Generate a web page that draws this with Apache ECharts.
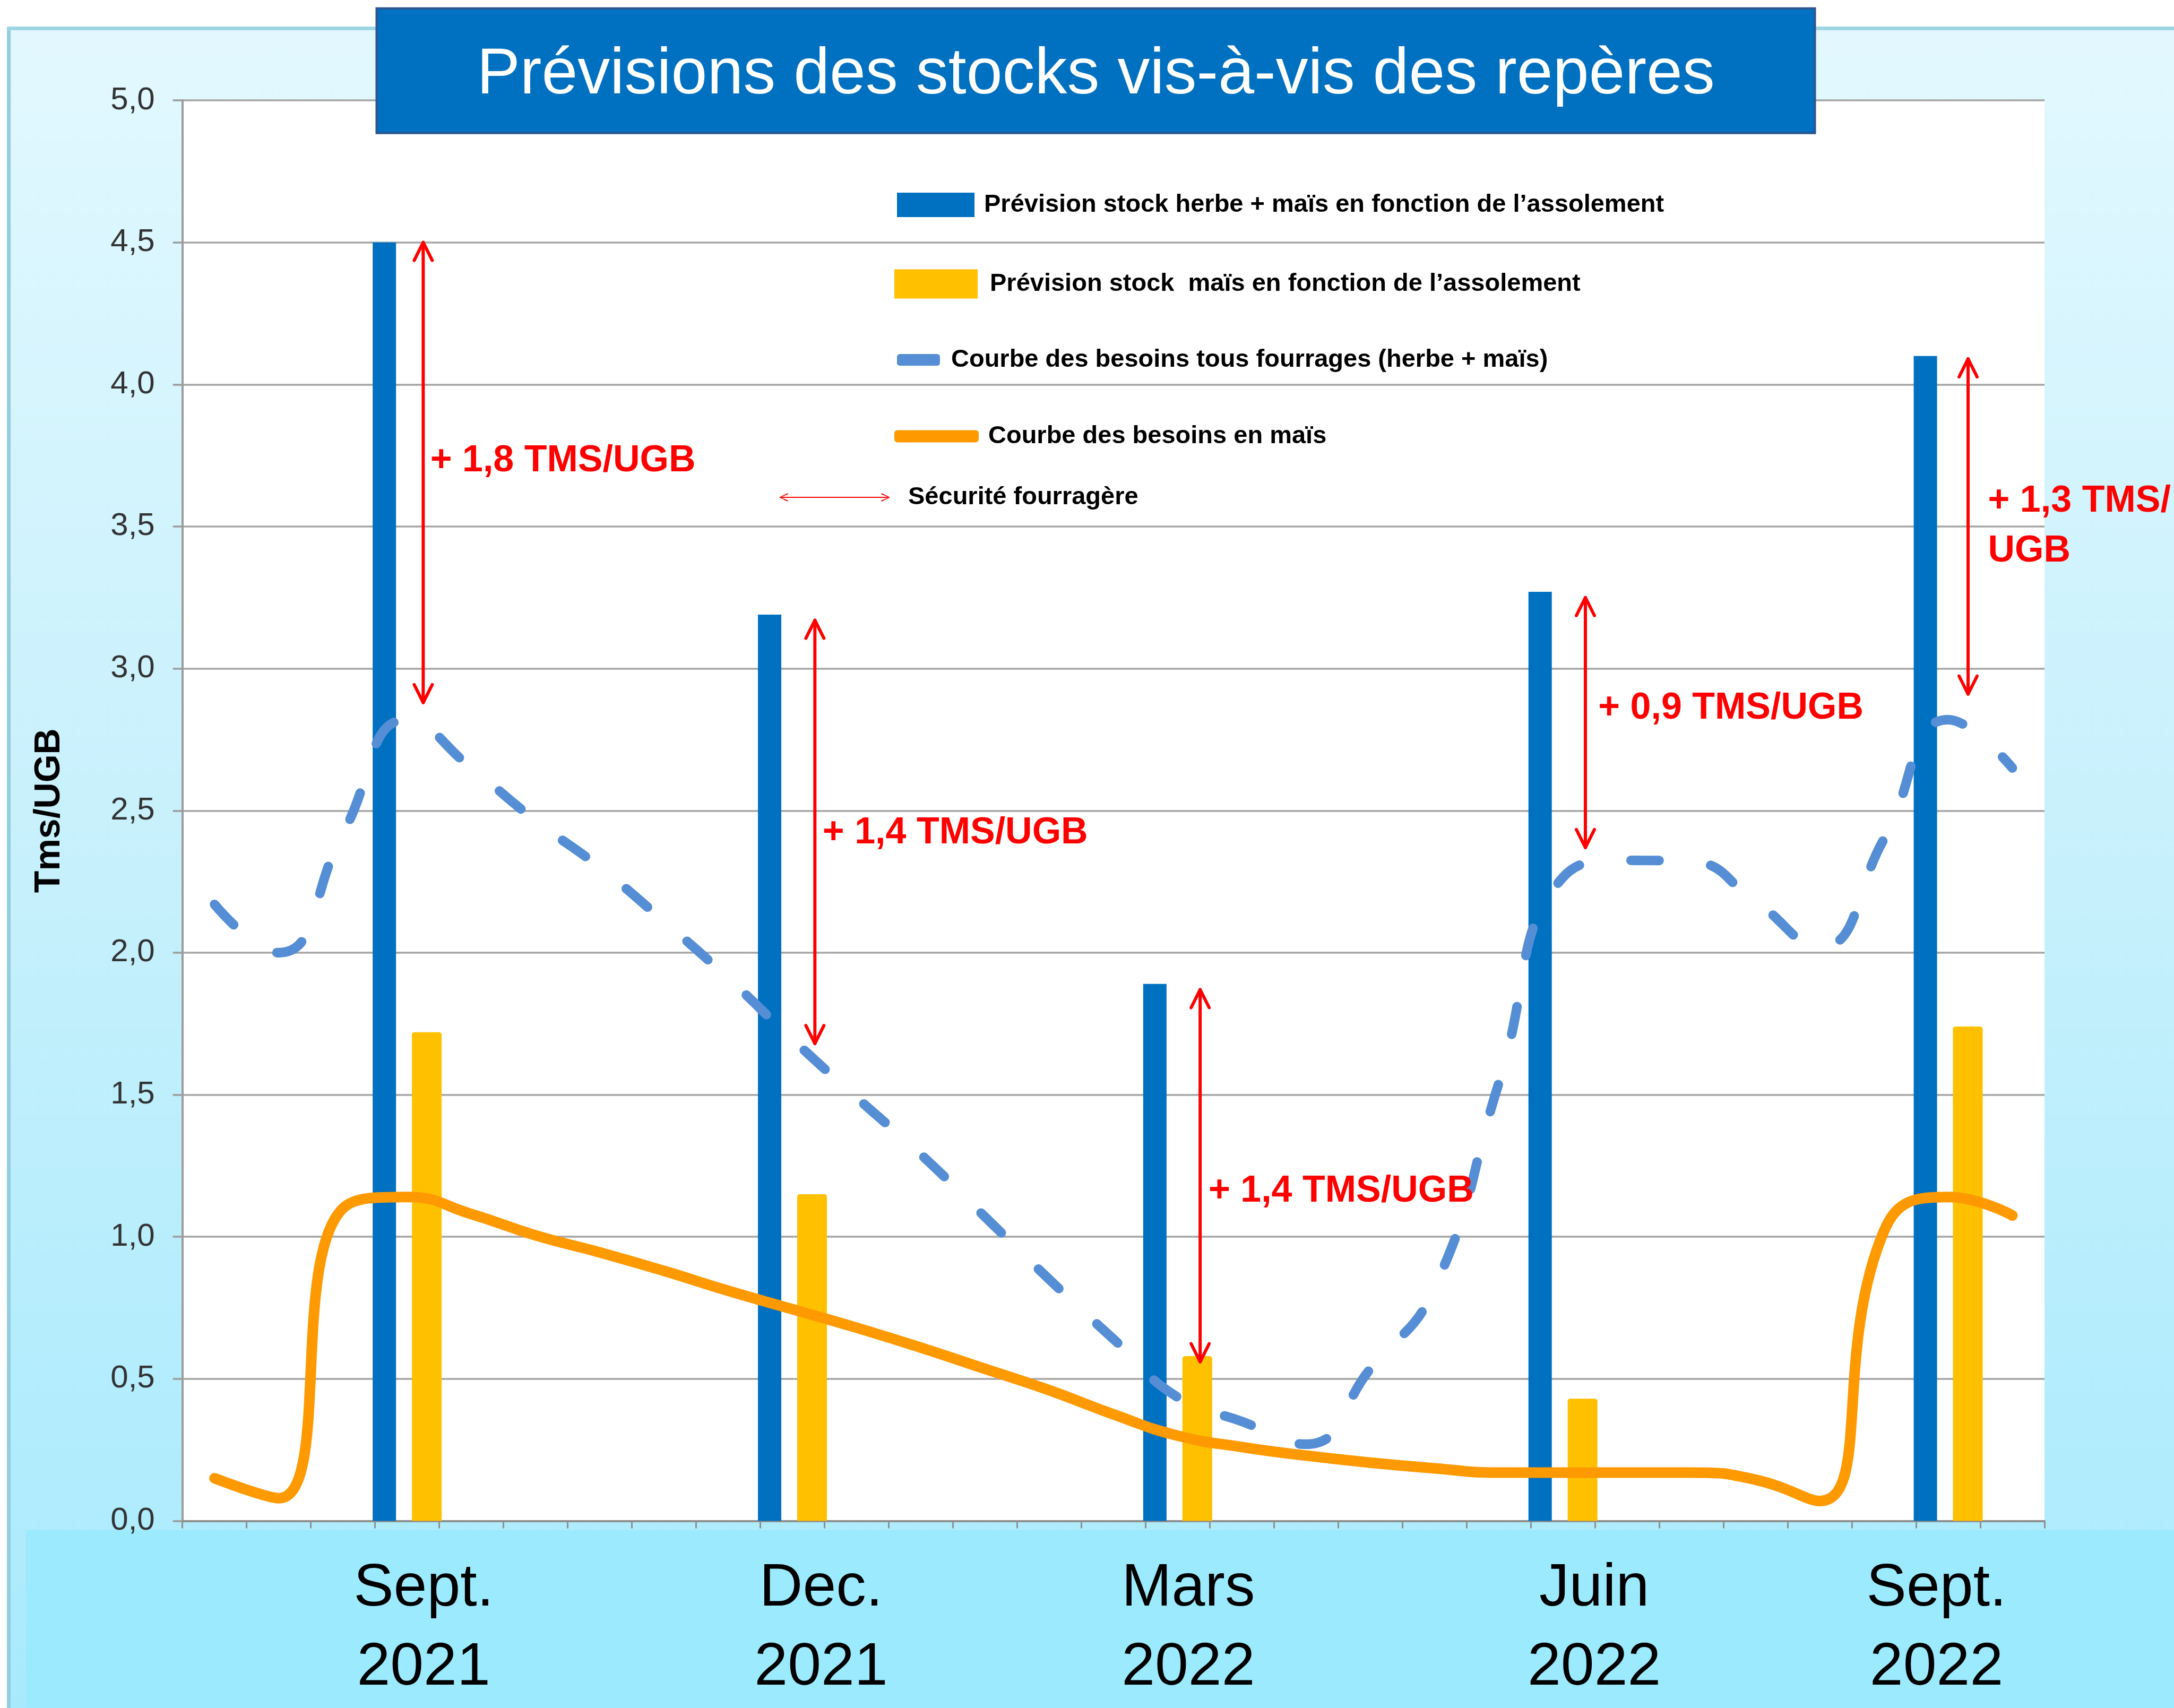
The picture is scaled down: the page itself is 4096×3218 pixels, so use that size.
<!DOCTYPE html>
<html>
<head>
<meta charset="utf-8">
<script src="https://cdn.jsdelivr.net/npm/echarts@6/dist/echarts.min.js"></script>
<style>
html,body{margin:0;padding:0;background:#ffffff;}
#chart{width:4096px;height:3218px;}
</style>
</head>
<body>
<div id="chart"></div>
<script>
// ---------------- data ----------------
const periodLabels = ['Sept.\n2021', 'Dec.\n2021', 'Mars\n2022', 'Juin\n2022', 'Sept.\n2022'];
const periodIndex = [3, 9, 15, 21, 27];
const slotCount = 29;

const stockHerbeMais = [4.50, 3.19, 1.89, 3.27, 4.10];
const stockMais = [1.72, 1.15, 0.58, 0.43, 1.74];

const besoinsTous = [2.17, 2.00, 2.42, 2.82, 2.65, 2.465, 2.30, 2.11, 1.91, 1.695, 1.49, 1.29, 1.07, 0.85, 0.64,
  0.435, 0.35, 0.27, 0.535, 0.82, 1.54, 2.265, 2.325, 2.32, 2.18, 2.02, 2.40, 2.82, 2.65];
const besoinsMais = [0.15, 0.08, 1.10, 1.14, 1.08, 1.005, 0.945, 0.88, 0.81, 0.745, 0.68, 0.61, 0.535, 0.46, 0.375,
  0.30, 0.26, 0.23, 0.205, 0.185, 0.17, 0.17, 0.17, 0.17, 0.145, 0.07, 1.02, 1.14, 1.075];

const yMin = 0, yMax = 5, yStep = 0.5;

const securiteX = [3.25, 9.35, 15.35, 21.35, 27.31];
const securiteTop = [4.50, 3.17, 1.87, 3.25, 4.09];
const securiteBottom = [2.88, 1.68, 0.56, 2.37, 2.91];
const securiteLabels = ['+ 1,8 TMS/UGB', '+ 1,4 TMS/UGB', '+ 1,4 TMS/UGB', '+ 0,9 TMS/UGB', '+ 1,3 TMS/\nUGB'];
const securiteLabelX = [3.36, 9.47, 15.48, 21.55, 27.62];
const securiteLabelY = [3.73, 2.42, 1.16, 2.86, 3.50];

const titleText = 'Prévisions des stocks vis-à-vis des repères';
const yName = 'Tms/UGB';
const S1 = 'Prévision stock herbe + maïs en fonction de l’assolement';
const S2 = 'Prévision stock  maïs en fonction de l’assolement';
const S3 = 'Courbe des besoins tous fourrages (herbe + maïs)';
const S4 = 'Courbe des besoins en maïs';
const S5 = 'Sécurité fourragère';

// ---------------- derived ----------------
const categories = Array.from({length: slotCount}, (_, i) => {
  const k = periodIndex.indexOf(i);
  return k >= 0 ? periodLabels[k].replace('\n', ' ') : '';
});
function spread(vals) {
  return categories.map((_, i) => {
    const k = periodIndex.indexOf(i);
    return k >= 0 ? vals[k] : null;
  });
}

// ---------------- styles ----------------
const FONT = '"Liberation Sans", Arial, sans-serif';
const labelShift = [31, 54, 20, 59, -22];
const rich = {};
labelShift.forEach((s, k) => {
  rich['s' + k] = {
    fontFamily: FONT, fontSize: 113, color: '#000', lineHeight: 149,
    padding: s >= 0 ? [0, 0, 0, 2 * s] : [0, -2 * s, 0, 0]
  };
});

const chart = echarts.init(document.getElementById('chart'), null, {renderer: 'canvas'});

function legendBox(name, icon, left, centerY, w, h, gap) {
  return {
    data: [{name: name, icon: icon}],
    left: left, top: centerY - 28, padding: 0,
    itemWidth: w, itemHeight: h, selectedMode: false,
    itemStyle: {borderWidth: 0},
    textStyle: {fontFamily: FONT, fontWeight: 'bold', fontSize: 47, color: '#000', lineHeight: 56,
      padding: [0, 0, 0, gap - 5]}
  };
}

const arrowIcon = 'path://M0,8 L16,0 L17,2 L5,7 L204,7 L192,2 L193,0 L209,8 L193,16 L192,14 L204,9 L5,9 L17,14 L16,16 Z';

const option = {
  animation: false,
  backgroundColor: '#ffffff',
  title: {
    text: titleText, left: 709.5, top: 15.7, z: 10,
    padding: [66, 189, 47, 189],
    backgroundColor: '#0070C0', borderColor: '#2E5590', borderWidth: 4,
    textStyle: {color: '#ffffff', fontFamily: FONT, fontWeight: 'normal', fontSize: 122, lineHeight: 122}
  },
  graphic: [
    {type: 'rect', z: -10, silent: true, shape: {x: 13, y: 50, width: 4083, height: 3168},
      style: {fill: new echarts.graphic.LinearGradient(0, 0, 0, 1, [
        {offset: 0, color: '#E2F8FE'}, {offset: 0.5, color: '#C6F0FC'}, {offset: 1, color: '#A8EAFD'}])}},
    {type: 'rect', z: -9, silent: true, shape: {x: 13, y: 50, width: 7, height: 3168}, style: {fill: '#92CEDE'}},
    {type: 'rect', z: -9, silent: true, shape: {x: 13, y: 50, width: 4083, height: 7}, style: {fill: '#9FD6E4'}},
    {type: 'rect', z: -9, silent: true, shape: {x: 49, y: 2883, width: 4047, height: 335}, style: {fill: '#9CEAFE'}}
  ],
  legend: [
    legendBox(S1, 'rect', 1690, 386, 146, 46, 18),
    legendBox(S2, 'rect', 1685, 535, 157, 55, 23),
    legendBox(S3, 'roundRect', 1690, 678, 81, 22, 21),
    legendBox(S4, 'roundRect', 1685, 822, 159, 23, 18),
    legendBox(S5, arrowIcon, 1468, 937, 209, 16, 34)
  ],
  grid: {left: 343.7, right: 244, top: 189, bottom: 352.5, show: true, backgroundColor: '#ffffff', borderWidth: 0},
  xAxis: [
    {
      type: 'category', data: categories, boundaryGap: true,
      axisLine: {show: true, onZero: false, lineStyle: {color: '#8f8f8f', width: 4}},
      axisTick: {show: true, interval: 0, length: 14, lineStyle: {color: '#8f8f8f', width: 3}},
      splitLine: {show: false},
      axisLabel: {
        interval: 0, margin: 54, color: '#000',
        formatter: function (value, index) {
          const k = periodIndex.indexOf(index);
          if (k < 0) return '';
          return periodLabels[k].split('\n').map(l => '{s' + k + '|' + l + '}').join('\n');
        },
        rich: rich
      }
    },
    {type: 'value', min: -0.5, max: 28.5, show: false}
  ],
  yAxis: {
    type: 'value', min: yMin, max: yMax, interval: yStep,
    name: yName, nameLocation: 'middle', nameRotate: 90, nameGap: 216,
    nameTextStyle: {fontFamily: FONT, fontWeight: 'bold', fontSize: 68, color: '#000'},
    axisLine: {show: true, onZero: false, lineStyle: {color: '#9c9c9c', width: 4}},
    axisTick: {show: true, length: 18, lineStyle: {color: '#9c9c9c', width: 3.5}},
    splitLine: {show: true, lineStyle: {color: '#a5a5a5', width: 3.5}},
    axisLabel: {
      margin: 52, color: '#333', fontFamily: FONT, fontSize: 60,
      formatter: v => v.toFixed(1).replace('.', ',')
    }
  },
  series: [
    {
      type: 'bar', name: S1, data: spread(stockHerbeMais), barWidth: 44, barGap: '68%',
      itemStyle: {color: '#0070C0'}
    },
    {
      type: 'bar', name: S2, data: spread(stockMais), barWidth: 56, barGap: '68%',
      itemStyle: {color: '#FFC000', borderRadius: [5, 5, 0, 0]}
    },
    {
      type: 'line', name: S3, data: besoinsTous, smooth: true, symbol: 'none', showSymbol: false,
      itemStyle: {color: '#558ED5'},
      lineStyle: {color: '#558ED5', width: 18, type: [53, 98], cap: 'round', join: 'round'}
    },
    {
      type: 'line', name: S4, data: besoinsMais, smooth: true, symbol: 'none', showSymbol: false,
      itemStyle: {color: '#FF9900'},
      lineStyle: {color: '#FF9900', width: 20, cap: 'round', join: 'round'}
    },
    {
      type: 'custom', name: S5, xAxisIndex: 1, yAxisIndex: 0, clip: false, z: 5,
      itemStyle: {color: '#FF0000'},
      data: securiteX.map((x, i) => [x, securiteTop[i], securiteBottom[i], securiteLabelX[i], securiteLabelY[i]]),
      renderItem: function (params, api) {
        const x = api.value(0);
        const p1 = api.coord([x, api.value(1)]);
        const p2 = api.coord([x, api.value(2)]);
        const pl = api.coord([api.value(3), api.value(4)]);
        const hw = 17, hl = 34;
        const st = {stroke: '#FF0000', lineWidth: 6, lineCap: 'round', lineJoin: 'round', fill: null};
        return {
          type: 'group',
          children: [
            {type: 'line', shape: {x1: p1[0], y1: p1[1], x2: p2[0], y2: p2[1]}, style: st},
            {type: 'polyline', shape: {points: [[p1[0] - hw, p1[1] + hl], [p1[0], p1[1]], [p1[0] + hw, p1[1] + hl]]}, style: st},
            {type: 'polyline', shape: {points: [[p2[0] - hw, p2[1] - hl], [p2[0], p2[1]], [p2[0] + hw, p2[1] - hl]]}, style: st},
            {type: 'text', x: pl[0], y: pl[1], style: {
              text: securiteLabels[params.dataIndex], fill: '#FF0000', fontSize: 70, fontWeight: 'bold',
              fontFamily: FONT, align: 'left', verticalAlign: 'middle', lineHeight: 94}}
          ]
        };
      }
    }
  ]
};
chart.setOption(option);
</script>
</body>
</html>
